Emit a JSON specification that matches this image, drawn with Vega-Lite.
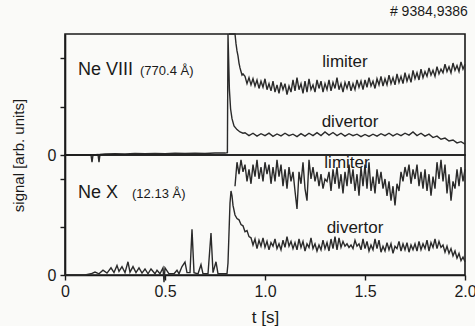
{
  "$schema": "https://vega.github.io/schema/vega-lite/v6.json",
  "autosize": {"type": "pad"},
  "padding": {"left": 10, "top": 4, "right": 0, "bottom": 0},
  "background": "#fafaf8",
  "config": {
    "view": {"stroke": "#1a1a1a", "strokeWidth": 1.6},
    "font": "Liberation Sans",
    "axis": {"domainColor": "#1a1a1a", "domainWidth": 1.6, "tickColor": "#1a1a1a", "tickWidth": 1.4, "tickSize": 5, "labelColor": "#1a1a1a", "titleColor": "#1a1a1a", "labelFont": "Liberation Sans", "titleFont": "Liberation Sans", "labelFontSize": 16, "titleFontSize": 15, "titleFontWeight": "normal", "grid": false},
    "text": {"font": "Liberation Sans", "color": "#1a1a1a"}
  },
  "datasets": {
    "top": [
      {"t": 0, "v": 0, "s": "divertor"}, {"t": 0.13, "v": 0, "s": "divertor"}, {"t": 0.135, "v": -0.3, "s": "divertor"}, {"t": 0.14, "v": 0, "s": "divertor"}, {"t": 0.165, "v": 0.02, "s": "divertor"}, {"t": 0.17, "v": -0.3, "s": "divertor"}, {"t": 0.175, "v": 0.02, "s": "divertor"}, {"t": 0.2, "v": 0.04, "s": "divertor"}, {"t": 0.25, "v": 0.05, "s": "divertor"}, {"t": 0.3, "v": 0.04, "s": "divertor"}, {"t": 0.35, "v": 0.06, "s": "divertor"}, {"t": 0.4, "v": 0.05, "s": "divertor"}, {"t": 0.45, "v": 0.06, "s": "divertor"}, {"t": 0.5, "v": 0.05, "s": "divertor"}, {"t": 0.55, "v": 0.07, "s": "divertor"}, {"t": 0.6, "v": 0.06, "s": "divertor"}, {"t": 0.65, "v": 0.07, "s": "divertor"}, {"t": 0.7, "v": 0.06, "s": "divertor"}, {"t": 0.75, "v": 0.08, "s": "divertor"}, {"t": 0.8, "v": 0.08, "s": "divertor"}, {"t": 0.812, "v": 0.1, "s": "divertor"}, {"t": 0.815, "v": 5, "s": "divertor"}, {"t": 0.818, "v": 4.0, "s": "divertor"}, {"t": 0.822, "v": 2.7, "s": "divertor"}, {"t": 0.828, "v": 1.9, "s": "divertor"}, {"t": 0.835, "v": 1.5, "s": "divertor"}, {"t": 0.845, "v": 1.2, "s": "divertor"}, {"t": 0.86, "v": 1.05, "s": "divertor"}, {"t": 0.875, "v": 0.95, "s": "divertor"}, {"t": 0.89, "v": 0.9, "s": "divertor"},
      {"t": 0.90, "v": 0.92, "s": "divertor"}, {"t": 0.92, "v": 0.8, "s": "divertor"}, {"t": 0.94, "v": 0.9, "s": "divertor"}, {"t": 0.96, "v": 0.78, "s": "divertor"}, {"t": 0.98, "v": 0.88, "s": "divertor"}, {"t": 1.00, "v": 0.8, "s": "divertor"}, {"t": 1.02, "v": 0.9, "s": "divertor"}, {"t": 1.04, "v": 0.77, "s": "divertor"}, {"t": 1.06, "v": 0.87, "s": "divertor"}, {"t": 1.08, "v": 0.79, "s": "divertor"}, {"t": 1.10, "v": 0.9, "s": "divertor"}, {"t": 1.12, "v": 0.8, "s": "divertor"}, {"t": 1.14, "v": 0.86, "s": "divertor"}, {"t": 1.16, "v": 0.76, "s": "divertor"}, {"t": 1.18, "v": 0.88, "s": "divertor"}, {"t": 1.20, "v": 0.78, "s": "divertor"}, {"t": 1.22, "v": 0.9, "s": "divertor"}, {"t": 1.24, "v": 0.8, "s": "divertor"}, {"t": 1.26, "v": 0.92, "s": "divertor"}, {"t": 1.28, "v": 0.8, "s": "divertor"}, {"t": 1.30, "v": 0.95, "s": "divertor"}, {"t": 1.32, "v": 0.82, "s": "divertor"}, {"t": 1.34, "v": 0.93, "s": "divertor"}, {"t": 1.36, "v": 0.8, "s": "divertor"}, {"t": 1.38, "v": 0.9, "s": "divertor"}, {"t": 1.40, "v": 0.78, "s": "divertor"}, {"t": 1.42, "v": 0.88, "s": "divertor"}, {"t": 1.44, "v": 0.8, "s": "divertor"}, {"t": 1.46, "v": 0.86, "s": "divertor"}, {"t": 1.48, "v": 0.76, "s": "divertor"}, {"t": 1.50, "v": 0.85, "s": "divertor"}, {"t": 1.52, "v": 0.77, "s": "divertor"}, {"t": 1.54, "v": 0.86, "s": "divertor"}, {"t": 1.56, "v": 0.78, "s": "divertor"}, {"t": 1.58, "v": 0.88, "s": "divertor"}, {"t": 1.60, "v": 0.8, "s": "divertor"}, {"t": 1.62, "v": 0.9, "s": "divertor"}, {"t": 1.64, "v": 0.79, "s": "divertor"}, {"t": 1.66, "v": 0.88, "s": "divertor"}, {"t": 1.68, "v": 0.8, "s": "divertor"}, {"t": 1.70, "v": 0.9, "s": "divertor"}, {"t": 1.72, "v": 0.82, "s": "divertor"}, {"t": 1.74, "v": 0.95, "s": "divertor"}, {"t": 1.76, "v": 0.8, "s": "divertor"}, {"t": 1.78, "v": 0.9, "s": "divertor"}, {"t": 1.80, "v": 0.78, "s": "divertor"}, {"t": 1.82, "v": 0.86, "s": "divertor"}, {"t": 1.84, "v": 0.72, "s": "divertor"}, {"t": 1.86, "v": 0.78, "s": "divertor"}, {"t": 1.88, "v": 0.65, "s": "divertor"}, {"t": 1.90, "v": 0.7, "s": "divertor"}, {"t": 1.92, "v": 0.58, "s": "divertor"}, {"t": 1.94, "v": 0.62, "s": "divertor"}, {"t": 1.96, "v": 0.5, "s": "divertor"}, {"t": 1.98, "v": 0.55, "s": "divertor"}, {"t": 2.00, "v": 0.45, "s": "divertor"},
      {"t": 0.82, "v": 5, "s": "limiter"}, {"t": 0.85, "v": 5, "s": "limiter"}, {"t": 0.855, "v": 4.6, "s": "limiter"}, {"t": 0.86, "v": 4.3, "s": "limiter"}, {"t": 0.865, "v": 4.1, "s": "limiter"}, {"t": 0.87, "v": 3.8, "s": "limiter"}, {"t": 0.875, "v": 3.6, "s": "limiter"}, {"t": 0.88, "v": 3.45, "s": "limiter"}, {"t": 0.885, "v": 3.3, "s": "limiter"}, {"t": 0.89, "v": 3.35, "s": "limiter"},
      {"t": 0.90, "v": 3.25, "s": "limiter"}, {"t": 0.91, "v": 2.95, "s": "limiter"}, {"t": 0.92, "v": 3.2, "s": "limiter"}, {"t": 0.93, "v": 2.9, "s": "limiter"}, {"t": 0.94, "v": 3.15, "s": "limiter"}, {"t": 0.95, "v": 2.85, "s": "limiter"}, {"t": 0.96, "v": 3.1, "s": "limiter"}, {"t": 0.97, "v": 2.75, "s": "limiter"}, {"t": 0.98, "v": 3.05, "s": "limiter"}, {"t": 0.99, "v": 2.8, "s": "limiter"},
      {"t": 1.00, "v": 3.15, "s": "limiter"}, {"t": 1.01, "v": 2.7, "s": "limiter"}, {"t": 1.02, "v": 2.95, "s": "limiter"}, {"t": 1.03, "v": 2.65, "s": "limiter"}, {"t": 1.04, "v": 3.05, "s": "limiter"}, {"t": 1.05, "v": 2.6, "s": "limiter"}, {"t": 1.06, "v": 2.9, "s": "limiter"}, {"t": 1.07, "v": 2.55, "s": "limiter"}, {"t": 1.08, "v": 3.0, "s": "limiter"}, {"t": 1.09, "v": 2.7, "s": "limiter"},
      {"t": 1.10, "v": 2.95, "s": "limiter"}, {"t": 1.11, "v": 2.5, "s": "limiter"}, {"t": 1.12, "v": 2.85, "s": "limiter"}, {"t": 1.13, "v": 2.6, "s": "limiter"}, {"t": 1.14, "v": 3.1, "s": "limiter"}, {"t": 1.15, "v": 2.65, "s": "limiter"}, {"t": 1.16, "v": 3.2, "s": "limiter"}, {"t": 1.17, "v": 2.7, "s": "limiter"}, {"t": 1.18, "v": 2.95, "s": "limiter"}, {"t": 1.19, "v": 2.55, "s": "limiter"},
      {"t": 1.20, "v": 3.05, "s": "limiter"}, {"t": 1.21, "v": 2.6, "s": "limiter"}, {"t": 1.22, "v": 3.15, "s": "limiter"}, {"t": 1.23, "v": 2.7, "s": "limiter"}, {"t": 1.24, "v": 2.9, "s": "limiter"}, {"t": 1.25, "v": 2.6, "s": "limiter"}, {"t": 1.26, "v": 3.1, "s": "limiter"}, {"t": 1.27, "v": 2.75, "s": "limiter"}, {"t": 1.28, "v": 3.05, "s": "limiter"}, {"t": 1.29, "v": 2.6, "s": "limiter"},
      {"t": 1.30, "v": 2.95, "s": "limiter"}, {"t": 1.31, "v": 2.7, "s": "limiter"}, {"t": 1.32, "v": 3.1, "s": "limiter"}, {"t": 1.33, "v": 2.65, "s": "limiter"}, {"t": 1.34, "v": 3.0, "s": "limiter"}, {"t": 1.35, "v": 2.75, "s": "limiter"}, {"t": 1.36, "v": 3.2, "s": "limiter"}, {"t": 1.37, "v": 2.7, "s": "limiter"}, {"t": 1.38, "v": 2.95, "s": "limiter"}, {"t": 1.39, "v": 2.6, "s": "limiter"},
      {"t": 1.40, "v": 3.0, "s": "limiter"}, {"t": 1.41, "v": 2.75, "s": "limiter"}, {"t": 1.42, "v": 3.05, "s": "limiter"}, {"t": 1.43, "v": 2.65, "s": "limiter"}, {"t": 1.44, "v": 2.95, "s": "limiter"}, {"t": 1.45, "v": 2.7, "s": "limiter"}, {"t": 1.46, "v": 3.1, "s": "limiter"}, {"t": 1.47, "v": 2.8, "s": "limiter"}, {"t": 1.48, "v": 3.05, "s": "limiter"}, {"t": 1.49, "v": 2.7, "s": "limiter"},
      {"t": 1.50, "v": 3.1, "s": "limiter"}, {"t": 1.51, "v": 2.8, "s": "limiter"}, {"t": 1.52, "v": 3.2, "s": "limiter"}, {"t": 1.53, "v": 2.85, "s": "limiter"}, {"t": 1.54, "v": 3.05, "s": "limiter"}, {"t": 1.55, "v": 2.75, "s": "limiter"}, {"t": 1.56, "v": 3.15, "s": "limiter"}, {"t": 1.57, "v": 2.9, "s": "limiter"}, {"t": 1.58, "v": 3.25, "s": "limiter"}, {"t": 1.59, "v": 2.85, "s": "limiter"},
      {"t": 1.60, "v": 3.15, "s": "limiter"}, {"t": 1.61, "v": 2.9, "s": "limiter"}, {"t": 1.62, "v": 3.3, "s": "limiter"}, {"t": 1.63, "v": 2.95, "s": "limiter"}, {"t": 1.64, "v": 3.2, "s": "limiter"}, {"t": 1.65, "v": 2.9, "s": "limiter"}, {"t": 1.66, "v": 3.35, "s": "limiter"}, {"t": 1.67, "v": 3.0, "s": "limiter"}, {"t": 1.68, "v": 3.25, "s": "limiter"}, {"t": 1.69, "v": 2.95, "s": "limiter"},
      {"t": 1.70, "v": 3.4, "s": "limiter"}, {"t": 1.71, "v": 3.05, "s": "limiter"}, {"t": 1.72, "v": 3.3, "s": "limiter"}, {"t": 1.73, "v": 3.0, "s": "limiter"}, {"t": 1.74, "v": 3.5, "s": "limiter"}, {"t": 1.75, "v": 3.15, "s": "limiter"}, {"t": 1.76, "v": 3.4, "s": "limiter"}, {"t": 1.77, "v": 3.1, "s": "limiter"}, {"t": 1.78, "v": 3.55, "s": "limiter"}, {"t": 1.79, "v": 3.2, "s": "limiter"},
      {"t": 1.80, "v": 3.45, "s": "limiter"}, {"t": 1.81, "v": 3.25, "s": "limiter"}, {"t": 1.82, "v": 3.6, "s": "limiter"}, {"t": 1.83, "v": 3.3, "s": "limiter"}, {"t": 1.84, "v": 3.5, "s": "limiter"}, {"t": 1.85, "v": 3.25, "s": "limiter"}, {"t": 1.86, "v": 3.65, "s": "limiter"}, {"t": 1.87, "v": 3.35, "s": "limiter"}, {"t": 1.88, "v": 3.55, "s": "limiter"}, {"t": 1.89, "v": 3.4, "s": "limiter"},
      {"t": 1.90, "v": 3.75, "s": "limiter"}, {"t": 1.91, "v": 3.45, "s": "limiter"}, {"t": 1.92, "v": 3.65, "s": "limiter"}, {"t": 1.93, "v": 3.4, "s": "limiter"}, {"t": 1.94, "v": 3.8, "s": "limiter"}, {"t": 1.95, "v": 3.5, "s": "limiter"}, {"t": 1.96, "v": 3.7, "s": "limiter"}, {"t": 1.97, "v": 3.45, "s": "limiter"}, {"t": 1.98, "v": 3.85, "s": "limiter"}, {"t": 1.99, "v": 3.55, "s": "limiter"}, {"t": 2.00, "v": 3.75, "s": "limiter"}
    ],
    "bottom": [
      {"t": 0, "v": 0, "s": "divertor"}, {"t": 0.1, "v": 0, "s": "divertor"}, {"t": 0.13, "v": 0.05, "s": "divertor"}, {"t": 0.15, "v": 0.12, "s": "divertor"}, {"t": 0.17, "v": 0.05, "s": "divertor"}, {"t": 0.19, "v": 0.2, "s": "divertor"}, {"t": 0.21, "v": 0.08, "s": "divertor"}, {"t": 0.23, "v": 0.3, "s": "divertor"}, {"t": 0.245, "v": 0.1, "s": "divertor"}, {"t": 0.26, "v": 0.4, "s": "divertor"}, {"t": 0.27, "v": 0.15, "s": "divertor"}, {"t": 0.285, "v": 0.35, "s": "divertor"}, {"t": 0.3, "v": 0.1, "s": "divertor"}, {"t": 0.315, "v": 0.55, "s": "divertor"}, {"t": 0.325, "v": 0.12, "s": "divertor"}, {"t": 0.34, "v": 0.35, "s": "divertor"}, {"t": 0.355, "v": 0.1, "s": "divertor"}, {"t": 0.37, "v": 0.3, "s": "divertor"}, {"t": 0.385, "v": 0.08, "s": "divertor"}, {"t": 0.4, "v": 0.25, "s": "divertor"}, {"t": 0.415, "v": 0.05, "s": "divertor"}, {"t": 0.43, "v": 0.25, "s": "divertor"}, {"t": 0.45, "v": 0.05, "s": "divertor"}, {"t": 0.46, "v": 0.2, "s": "divertor"}, {"t": 0.475, "v": 0.05, "s": "divertor"}, {"t": 0.49, "v": 0.3, "s": "divertor"}, {"t": 0.495, "v": -0.3, "s": "divertor"}, {"t": 0.5, "v": 0.3, "s": "divertor"}, {"t": 0.52, "v": 0.05, "s": "divertor"}, {"t": 0.545, "v": 0.05, "s": "divertor"}, {"t": 0.56, "v": 0.2, "s": "divertor"}, {"t": 0.57, "v": 0.05, "s": "divertor"}, {"t": 0.585, "v": 0.35, "s": "divertor"}, {"t": 0.6, "v": 0.54, "s": "divertor"}, {"t": 0.61, "v": 0.1, "s": "divertor"}, {"t": 0.625, "v": 0.1, "s": "divertor"}, {"t": 0.635, "v": 1.9, "s": "divertor"}, {"t": 0.645, "v": 0.1, "s": "divertor"}, {"t": 0.665, "v": 0.05, "s": "divertor"}, {"t": 0.68, "v": 0.43, "s": "divertor"}, {"t": 0.69, "v": 0.05, "s": "divertor"}, {"t": 0.715, "v": 0.05, "s": "divertor"}, {"t": 0.73, "v": 1.75, "s": "divertor"}, {"t": 0.74, "v": 0.1, "s": "divertor"}, {"t": 0.755, "v": 0.55, "s": "divertor"}, {"t": 0.765, "v": 0.05, "s": "divertor"}, {"t": 0.8, "v": 0.05, "s": "divertor"}, {"t": 0.81, "v": 0.05, "s": "divertor"},
      {"t": 0.815, "v": 0.5, "s": "divertor"}, {"t": 0.825, "v": 3.0, "s": "divertor"}, {"t": 0.83, "v": 3.5, "s": "divertor"}, {"t": 0.835, "v": 3.3, "s": "divertor"}, {"t": 0.84, "v": 2.9, "s": "divertor"}, {"t": 0.85, "v": 2.5, "s": "divertor"}, {"t": 0.86, "v": 2.35, "s": "divertor"}, {"t": 0.87, "v": 2.3, "s": "divertor"}, {"t": 0.88, "v": 2.1, "s": "divertor"}, {"t": 0.89, "v": 2.05, "s": "divertor"},
      {"t": 0.90, "v": 1.8, "s": "divertor"}, {"t": 0.91, "v": 1.85, "s": "divertor"}, {"t": 0.92, "v": 1.6, "s": "divertor"}, {"t": 0.93, "v": 1.55, "s": "divertor"}, {"t": 0.94, "v": 1.25, "s": "divertor"}, {"t": 0.95, "v": 1.5, "s": "divertor"}, {"t": 0.96, "v": 1.1, "s": "divertor"}, {"t": 0.97, "v": 1.45, "s": "divertor"}, {"t": 0.98, "v": 1.2, "s": "divertor"}, {"t": 0.99, "v": 1.55, "s": "divertor"},
      {"t": 1.00, "v": 1.15, "s": "divertor"}, {"t": 1.01, "v": 1.4, "s": "divertor"}, {"t": 1.02, "v": 1.05, "s": "divertor"}, {"t": 1.03, "v": 1.35, "s": "divertor"}, {"t": 1.04, "v": 1.2, "s": "divertor"}, {"t": 1.05, "v": 1.5, "s": "divertor"}, {"t": 1.06, "v": 1.1, "s": "divertor"}, {"t": 1.07, "v": 1.3, "s": "divertor"}, {"t": 1.08, "v": 1.05, "s": "divertor"}, {"t": 1.09, "v": 1.45, "s": "divertor"},
      {"t": 1.10, "v": 1.15, "s": "divertor"}, {"t": 1.11, "v": 1.6, "s": "divertor"}, {"t": 1.12, "v": 1.2, "s": "divertor"}, {"t": 1.13, "v": 1.4, "s": "divertor"}, {"t": 1.14, "v": 1.1, "s": "divertor"}, {"t": 1.15, "v": 1.35, "s": "divertor"}, {"t": 1.16, "v": 1.05, "s": "divertor"}, {"t": 1.17, "v": 1.5, "s": "divertor"}, {"t": 1.18, "v": 1.15, "s": "divertor"}, {"t": 1.19, "v": 1.4, "s": "divertor"},
      {"t": 1.20, "v": 1.0, "s": "divertor"}, {"t": 1.21, "v": 1.3, "s": "divertor"}, {"t": 1.22, "v": 1.15, "s": "divertor"}, {"t": 1.23, "v": 1.55, "s": "divertor"}, {"t": 1.24, "v": 1.1, "s": "divertor"}, {"t": 1.25, "v": 1.3, "s": "divertor"}, {"t": 1.26, "v": 1.0, "s": "divertor"}, {"t": 1.27, "v": 1.25, "s": "divertor"}, {"t": 1.28, "v": 1.05, "s": "divertor"}, {"t": 1.29, "v": 1.45, "s": "divertor"},
      {"t": 1.30, "v": 1.1, "s": "divertor"}, {"t": 1.31, "v": 1.35, "s": "divertor"}, {"t": 1.32, "v": 1.0, "s": "divertor"}, {"t": 1.33, "v": 1.5, "s": "divertor"}, {"t": 1.34, "v": 1.1, "s": "divertor"}, {"t": 1.35, "v": 1.6, "s": "divertor"}, {"t": 1.36, "v": 1.05, "s": "divertor"}, {"t": 1.37, "v": 1.55, "s": "divertor"}, {"t": 1.38, "v": 1.15, "s": "divertor"}, {"t": 1.39, "v": 1.4, "s": "divertor"},
      {"t": 1.40, "v": 1.2, "s": "divertor"}, {"t": 1.41, "v": 1.3, "s": "divertor"}, {"t": 1.42, "v": 1.15, "s": "divertor"}, {"t": 1.43, "v": 1.25, "s": "divertor"}, {"t": 1.44, "v": 1.1, "s": "divertor"}, {"t": 1.45, "v": 1.45, "s": "divertor"}, {"t": 1.46, "v": 1.2, "s": "divertor"}, {"t": 1.47, "v": 1.3, "s": "divertor"}, {"t": 1.48, "v": 1.05, "s": "divertor"}, {"t": 1.49, "v": 1.5, "s": "divertor"},
      {"t": 1.50, "v": 1.1, "s": "divertor"}, {"t": 1.51, "v": 1.4, "s": "divertor"}, {"t": 1.52, "v": 1.0, "s": "divertor"}, {"t": 1.53, "v": 1.25, "s": "divertor"}, {"t": 1.54, "v": 1.05, "s": "divertor"}, {"t": 1.55, "v": 1.5, "s": "divertor"}, {"t": 1.56, "v": 1.1, "s": "divertor"}, {"t": 1.57, "v": 1.45, "s": "divertor"}, {"t": 1.58, "v": 0.95, "s": "divertor"}, {"t": 1.59, "v": 1.2, "s": "divertor"},
      {"t": 1.60, "v": 1.0, "s": "divertor"}, {"t": 1.61, "v": 1.35, "s": "divertor"}, {"t": 1.62, "v": 1.05, "s": "divertor"}, {"t": 1.63, "v": 1.3, "s": "divertor"}, {"t": 1.64, "v": 0.9, "s": "divertor"}, {"t": 1.65, "v": 1.2, "s": "divertor"}, {"t": 1.66, "v": 1.1, "s": "divertor"}, {"t": 1.67, "v": 1.4, "s": "divertor"}, {"t": 1.68, "v": 1.0, "s": "divertor"}, {"t": 1.69, "v": 1.3, "s": "divertor"},
      {"t": 1.70, "v": 1.05, "s": "divertor"}, {"t": 1.71, "v": 1.35, "s": "divertor"}, {"t": 1.72, "v": 0.95, "s": "divertor"}, {"t": 1.73, "v": 1.25, "s": "divertor"}, {"t": 1.74, "v": 1.05, "s": "divertor"}, {"t": 1.75, "v": 1.3, "s": "divertor"}, {"t": 1.76, "v": 1.0, "s": "divertor"}, {"t": 1.77, "v": 1.4, "s": "divertor"}, {"t": 1.78, "v": 1.05, "s": "divertor"}, {"t": 1.79, "v": 1.3, "s": "divertor"},
      {"t": 1.80, "v": 1.1, "s": "divertor"}, {"t": 1.81, "v": 1.45, "s": "divertor"}, {"t": 1.82, "v": 1.0, "s": "divertor"}, {"t": 1.83, "v": 1.35, "s": "divertor"}, {"t": 1.84, "v": 1.15, "s": "divertor"}, {"t": 1.85, "v": 1.5, "s": "divertor"}, {"t": 1.86, "v": 1.1, "s": "divertor"}, {"t": 1.87, "v": 1.4, "s": "divertor"}, {"t": 1.88, "v": 1.15, "s": "divertor"}, {"t": 1.89, "v": 1.25, "s": "divertor"},
      {"t": 1.90, "v": 0.95, "s": "divertor"}, {"t": 1.91, "v": 1.2, "s": "divertor"}, {"t": 1.92, "v": 0.9, "s": "divertor"}, {"t": 1.93, "v": 1.1, "s": "divertor"}, {"t": 1.94, "v": 0.8, "s": "divertor"}, {"t": 1.95, "v": 1.0, "s": "divertor"}, {"t": 1.96, "v": 0.7, "s": "divertor"}, {"t": 1.97, "v": 0.9, "s": "divertor"}, {"t": 1.98, "v": 0.6, "s": "divertor"}, {"t": 1.99, "v": 0.75, "s": "divertor"}, {"t": 2.00, "v": 0.55, "s": "divertor"},
      {"t": 0.85, "v": 3.7, "s": "limiter"}, {"t": 0.86, "v": 4.7, "s": "limiter"}, {"t": 0.87, "v": 4.2, "s": "limiter"}, {"t": 0.88, "v": 4.8, "s": "limiter"}, {"t": 0.89, "v": 4.3, "s": "limiter"},
      {"t": 0.90, "v": 4.6, "s": "limiter"}, {"t": 0.91, "v": 3.9, "s": "limiter"}, {"t": 0.92, "v": 4.4, "s": "limiter"}, {"t": 0.93, "v": 3.8, "s": "limiter"}, {"t": 0.94, "v": 4.6, "s": "limiter"}, {"t": 0.95, "v": 4.1, "s": "limiter"}, {"t": 0.96, "v": 4.8, "s": "limiter"}, {"t": 0.97, "v": 4.0, "s": "limiter"}, {"t": 0.98, "v": 4.5, "s": "limiter"}, {"t": 0.99, "v": 3.9, "s": "limiter"},
      {"t": 1.00, "v": 4.7, "s": "limiter"}, {"t": 1.01, "v": 4.2, "s": "limiter"}, {"t": 1.02, "v": 4.6, "s": "limiter"}, {"t": 1.03, "v": 3.8, "s": "limiter"}, {"t": 1.04, "v": 4.5, "s": "limiter"}, {"t": 1.05, "v": 3.9, "s": "limiter"}, {"t": 1.06, "v": 4.8, "s": "limiter"}, {"t": 1.07, "v": 4.1, "s": "limiter"}, {"t": 1.08, "v": 4.6, "s": "limiter"}, {"t": 1.09, "v": 3.7, "s": "limiter"},
      {"t": 1.10, "v": 4.4, "s": "limiter"}, {"t": 1.11, "v": 3.6, "s": "limiter"}, {"t": 1.12, "v": 4.5, "s": "limiter"}, {"t": 1.13, "v": 3.9, "s": "limiter"}, {"t": 1.14, "v": 4.3, "s": "limiter"}, {"t": 1.15, "v": 3.5, "s": "limiter"}, {"t": 1.16, "v": 2.75, "s": "limiter"}, {"t": 1.17, "v": 4.3, "s": "limiter"}, {"t": 1.18, "v": 3.8, "s": "limiter"}, {"t": 1.19, "v": 4.7, "s": "limiter"},
      {"t": 1.20, "v": 3.6, "s": "limiter"}, {"t": 1.21, "v": 3.1, "s": "limiter"}, {"t": 1.22, "v": 4.8, "s": "limiter"}, {"t": 1.23, "v": 4.0, "s": "limiter"}, {"t": 1.24, "v": 4.5, "s": "limiter"}, {"t": 1.25, "v": 3.9, "s": "limiter"}, {"t": 1.26, "v": 4.3, "s": "limiter"}, {"t": 1.27, "v": 3.7, "s": "limiter"}, {"t": 1.28, "v": 4.2, "s": "limiter"}, {"t": 1.29, "v": 3.6, "s": "limiter"},
      {"t": 1.30, "v": 4.0, "s": "limiter"}, {"t": 1.31, "v": 3.9, "s": "limiter"}, {"t": 1.32, "v": 4.3, "s": "limiter"}, {"t": 1.33, "v": 3.5, "s": "limiter"}, {"t": 1.34, "v": 4.4, "s": "limiter"}, {"t": 1.35, "v": 3.8, "s": "limiter"}, {"t": 1.36, "v": 4.5, "s": "limiter"}, {"t": 1.37, "v": 3.6, "s": "limiter"}, {"t": 1.38, "v": 4.2, "s": "limiter"}, {"t": 1.39, "v": 3.4, "s": "limiter"},
      {"t": 1.40, "v": 4.3, "s": "limiter"}, {"t": 1.41, "v": 3.7, "s": "limiter"}, {"t": 1.42, "v": 4.6, "s": "limiter"}, {"t": 1.43, "v": 3.8, "s": "limiter"}, {"t": 1.44, "v": 4.4, "s": "limiter"}, {"t": 1.45, "v": 3.5, "s": "limiter"}, {"t": 1.46, "v": 4.2, "s": "limiter"}, {"t": 1.47, "v": 3.3, "s": "limiter"}, {"t": 1.48, "v": 4.5, "s": "limiter"}, {"t": 1.49, "v": 3.7, "s": "limiter"},
      {"t": 1.50, "v": 4.6, "s": "limiter"}, {"t": 1.51, "v": 3.6, "s": "limiter"}, {"t": 1.52, "v": 4.7, "s": "limiter"}, {"t": 1.53, "v": 3.5, "s": "limiter"}, {"t": 1.54, "v": 4.1, "s": "limiter"}, {"t": 1.55, "v": 3.4, "s": "limiter"}, {"t": 1.56, "v": 4.4, "s": "limiter"}, {"t": 1.57, "v": 3.8, "s": "limiter"}, {"t": 1.58, "v": 4.3, "s": "limiter"}, {"t": 1.59, "v": 3.6, "s": "limiter"},
      {"t": 1.60, "v": 4.0, "s": "limiter"}, {"t": 1.61, "v": 3.3, "s": "limiter"}, {"t": 1.62, "v": 3.9, "s": "limiter"}, {"t": 1.63, "v": 3.1, "s": "limiter"}, {"t": 1.64, "v": 3.7, "s": "limiter"}, {"t": 1.65, "v": 2.9, "s": "limiter"}, {"t": 1.66, "v": 3.8, "s": "limiter"}, {"t": 1.67, "v": 3.5, "s": "limiter"}, {"t": 1.68, "v": 4.3, "s": "limiter"}, {"t": 1.69, "v": 3.9, "s": "limiter"},
      {"t": 1.70, "v": 4.5, "s": "limiter"}, {"t": 1.71, "v": 4.1, "s": "limiter"}, {"t": 1.72, "v": 4.6, "s": "limiter"}, {"t": 1.73, "v": 3.8, "s": "limiter"}, {"t": 1.74, "v": 4.4, "s": "limiter"}, {"t": 1.75, "v": 4.0, "s": "limiter"}, {"t": 1.76, "v": 4.6, "s": "limiter"}, {"t": 1.77, "v": 3.7, "s": "limiter"}, {"t": 1.78, "v": 4.3, "s": "limiter"}, {"t": 1.79, "v": 3.6, "s": "limiter"},
      {"t": 1.80, "v": 4.4, "s": "limiter"}, {"t": 1.81, "v": 3.5, "s": "limiter"}, {"t": 1.82, "v": 4.2, "s": "limiter"}, {"t": 1.83, "v": 3.3, "s": "limiter"}, {"t": 1.84, "v": 4.1, "s": "limiter"}, {"t": 1.85, "v": 3.6, "s": "limiter"}, {"t": 1.86, "v": 4.7, "s": "limiter"}, {"t": 1.87, "v": 4.0, "s": "limiter"}, {"t": 1.88, "v": 4.8, "s": "limiter"}, {"t": 1.89, "v": 3.9, "s": "limiter"},
      {"t": 1.90, "v": 4.6, "s": "limiter"}, {"t": 1.91, "v": 3.4, "s": "limiter"}, {"t": 1.92, "v": 4.2, "s": "limiter"}, {"t": 1.93, "v": 3.1, "s": "limiter"}, {"t": 1.94, "v": 3.9, "s": "limiter"}, {"t": 1.95, "v": 3.6, "s": "limiter"}, {"t": 1.96, "v": 4.4, "s": "limiter"}, {"t": 1.97, "v": 3.7, "s": "limiter"}, {"t": 1.98, "v": 4.5, "s": "limiter"}, {"t": 1.99, "v": 3.9, "s": "limiter"}, {"t": 2.00, "v": 4.4, "s": "limiter"}
    ],
    "topIon": [{"t": 0.065, "v": 3.5, "label": "Ne VIII"}],
    "topWave": [{"t": 0.375, "v": 3.47, "label": "(770.4 Å)"}],
    "topSeries": [{"t": 1.4, "v": 3.84, "label": "limiter"}, {"t": 1.425, "v": 1.36, "label": "divertor"}],
    "botIon": [{"t": 0.065, "v": 3.42, "label": "Ne X"}],
    "botWave": [{"t": 0.335, "v": 3.38, "label": "(12.13 Å)"}],
    "botSeries": [{"t": 1.41, "v": 4.67, "label": "limiter"}, {"t": 1.45, "v": 1.96, "label": "divertor"}]
  },
  "spacing": 0,
  "bounds": "flush",
  "vconcat": [
    {
      "width": 400,
      "height": 121,
      "title": {"text": "# 9384,9386", "anchor": "end", "fontSize": 14, "fontWeight": "normal", "offset": 12, "color": "#1a1a1a", "font": "Liberation Sans"},
      "layer": [
        {
          "data": {"name": "top"},
          "mark": {"type": "line", "color": "#2a2a2a", "strokeWidth": 1.4},
          "encoding": {
            "x": {"field": "t", "type": "quantitative", "scale": {"domain": [0, 2], "nice": false}, "axis": null},
            "y": {"field": "v", "type": "quantitative", "scale": {"domain": [0, 5], "nice": false, "zero": false},
                  "axis": {"values": [0, 1, 2, 3, 4, 5], "labelExpr": "datum.value === 0 ? '0' : ''", "labelPadding": 4, "title": "signal [arb. units]", "titleX": -47, "titleY": 121, "titleAngle": -90, "titleAlign": "center", "titleBaseline": "middle"}},
            "detail": {"field": "s"}
          }
        },
        {
          "data": {"name": "topIon"},
          "mark": {"type": "text", "fontSize": 18, "align": "left", "baseline": "middle"},
          "encoding": {"x": {"field": "t", "type": "quantitative"}, "y": {"field": "v", "type": "quantitative"}, "text": {"field": "label"}}
        },
        {
          "data": {"name": "topWave"},
          "mark": {"type": "text", "fontSize": 13, "align": "left", "baseline": "middle"},
          "encoding": {"x": {"field": "t", "type": "quantitative"}, "y": {"field": "v", "type": "quantitative"}, "text": {"field": "label"}}
        },
        {
          "data": {"name": "topSeries"},
          "mark": {"type": "text", "fontSize": 17, "align": "center", "baseline": "middle"},
          "encoding": {"x": {"field": "t", "type": "quantitative"}, "y": {"field": "v", "type": "quantitative"}, "text": {"field": "label"}}
        }
      ]
    },
    {
      "width": 400,
      "height": 120,
      "layer": [
        {
          "data": {"name": "bottom"},
          "mark": {"type": "line", "color": "#2a2a2a", "strokeWidth": 1.4},
          "encoding": {
            "x": {"field": "t", "type": "quantitative", "scale": {"domain": [0, 2], "nice": false},
                  "axis": {"values": [0, 0.5, 1, 1.5, 2], "labelExpr": "datum.value === 0 ? '0' : format(datum.value, '.1f')", "labelPadding": 3, "labelFlush": false, "labelBound": false, "title": "t [s]", "titleFontSize": 17, "titlePadding": 10}},
            "y": {"field": "v", "type": "quantitative", "scale": {"domain": [0, 5], "nice": false, "zero": false},
                  "axis": {"values": [0, 1, 2, 3, 4, 5], "labelExpr": "datum.value === 0 ? '0' : ''", "labelPadding": 4, "title": null}},
            "detail": {"field": "s"}
          }
        },
        {
          "data": {"name": "botIon"},
          "mark": {"type": "text", "fontSize": 18, "align": "left", "baseline": "middle"},
          "encoding": {"x": {"field": "t", "type": "quantitative"}, "y": {"field": "v", "type": "quantitative"}, "text": {"field": "label"}}
        },
        {
          "data": {"name": "botWave"},
          "mark": {"type": "text", "fontSize": 13, "align": "left", "baseline": "middle"},
          "encoding": {"x": {"field": "t", "type": "quantitative"}, "y": {"field": "v", "type": "quantitative"}, "text": {"field": "label"}}
        },
        {
          "data": {"name": "botSeries"},
          "mark": {"type": "text", "fontSize": 17, "align": "center", "baseline": "middle"},
          "encoding": {"x": {"field": "t", "type": "quantitative"}, "y": {"field": "v", "type": "quantitative"}, "text": {"field": "label"}}
        }
      ]
    }
  ]
}
